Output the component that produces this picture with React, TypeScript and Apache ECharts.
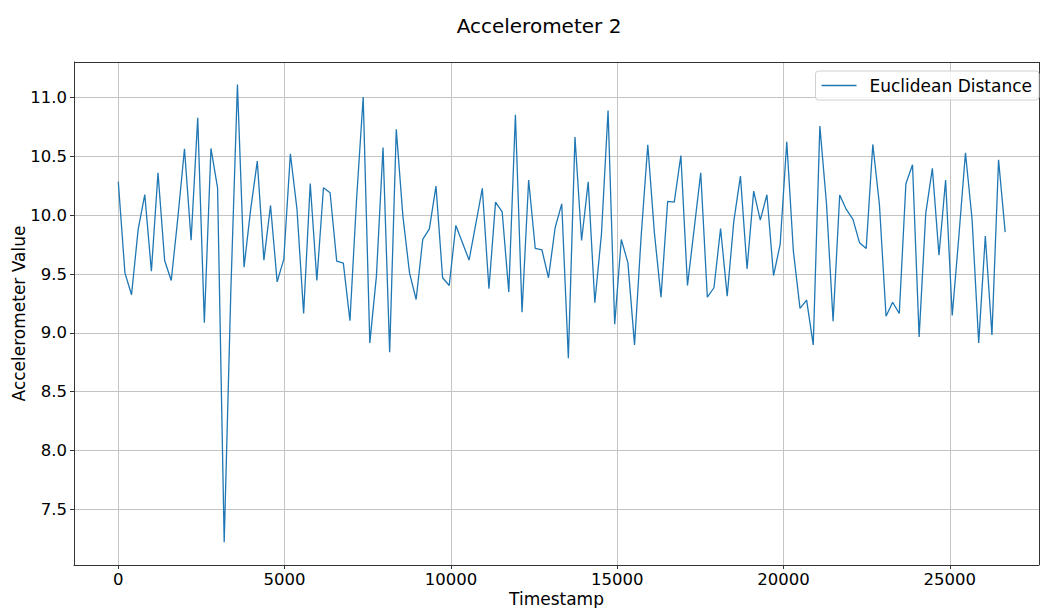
import React, { useEffect, useRef } from "react";
import * as echarts from "echarts";

// Sample timestamps (ms) and the Euclidean distance of accelerometer 2 at each one
const timestamps: number[] = [
  0, 199, 398, 597, 796, 995, 1194, 1393, 1592, 1791, 1990, 2189, 2388, 2587, 2786,
  2985, 3184, 3383, 3582, 3781, 3980, 4179, 4378, 4577, 4776, 4975, 5174, 5373, 5572,
  5771, 5970, 6169, 6368, 6567, 6766, 6965, 7164, 7363, 7562, 7761, 7960, 8159, 8358,
  8557, 8756, 8955, 9154, 9353, 9552, 9751, 9950, 10149, 10348, 10547, 10746, 10945,
  11144, 11343, 11542, 11741, 11940, 12139, 12338, 12537, 12736, 12935, 13134, 13333,
  13532, 13731, 13930, 14129, 14328, 14527, 14726, 14925, 15124, 15323, 15522, 15721,
  15920, 16119, 16318, 16517, 16716, 16915, 17114, 17313, 17512, 17711, 17910, 18109,
  18308, 18507, 18706, 18905, 19104, 19303, 19502, 19701, 19900, 20099, 20298, 20497,
  20696, 20895, 21094, 21293, 21492, 21691, 21890, 22089, 22288, 22487, 22686, 22885,
  23084, 23283, 23482, 23681, 23880, 24079, 24278, 24477, 24676, 24875, 25074, 25273,
  25472, 25671, 25870, 26069, 26268, 26467, 26666,
];

const euclideanDistance: number[] = [
  10.285, 9.511, 9.324, 9.88, 10.177, 9.525, 10.362, 9.616, 9.446, 9.98,
  10.566, 9.789, 10.83, 9.086, 10.569, 10.234, 7.22, 9.35, 11.113, 9.559,
  10.05, 10.461, 9.619, 10.084, 9.434, 9.625, 10.524, 10.05, 9.165, 10.271,
  9.446, 10.234, 10.192, 9.61, 9.593, 9.103, 10.135, 11.006, 8.915, 9.483,
  10.577, 8.836, 10.731, 9.993, 9.511, 9.284, 9.795, 9.885, 10.248, 9.469,
  9.403, 9.914, 9.766, 9.619, 9.922, 10.229, 9.375, 10.112, 10.03, 9.347,
  10.855, 9.176, 10.3, 9.718, 9.707, 9.469, 9.894, 10.098, 8.785, 10.665,
  9.786, 10.285, 9.256, 9.84, 10.892, 9.074, 9.795, 9.596, 8.898, 9.823,
  10.6, 9.851, 9.304, 10.118, 10.112, 10.509, 9.403, 9.88, 10.362, 9.304,
  9.384, 9.888, 9.313, 9.951, 10.334, 9.545, 10.206, 9.959, 10.175, 9.488,
  9.752, 10.626, 9.695, 9.208, 9.279, 8.898, 10.759, 10.1, 9.1, 10.172,
  10.05, 9.965, 9.766, 9.718, 10.603, 10.092, 9.142, 9.261, 9.165, 10.268,
  10.43, 8.966, 10.016, 10.399, 9.661, 10.3, 9.148, 9.82, 10.532, 9.965,
  8.915, 9.823, 8.983, 10.472, 9.857,
];

const xTicks: number[] = [0, 5000, 10000, 15000, 20000, 25000];
const yTicks: number[] = [7.5, 8.0, 8.5, 9.0, 9.5, 10.0, 10.5, 11.0];

const FONT = "DejaVu Sans";
const GRID_COLOR = "#c4c4c4";
const AXIS_COLOR = "#333333";

export default function App() {
  const ref = useRef<HTMLDivElement>(null);

  useEffect(() => {
    document.body.style.margin = "0";
    if (!ref.current) return;
    const chart = echarts.init(ref.current, undefined, { renderer: "svg" });

    const points = timestamps.map((t, i) => [t, euclideanDistance[i]]);

    chart.setOption({
      animation: false,
      backgroundColor: "#ffffff",
      textStyle: { fontFamily: FONT },
      title: {
        text: "Accelerometer 2",
        left: 534,
        top: 11,
        textAlign: "center",
        textStyle: { fontFamily: FONT, fontSize: 20, fontWeight: "normal", color: "#000" },
      },
      legend: {
        right: 1,
        top: 71,
        orient: "vertical",
        data: [{ name: "Euclidean Distance", icon: "rect" }],
        itemWidth: 35,
        itemHeight: 1.5,
        padding: [6, 7, 6, 6],
        backgroundColor: "rgba(255,255,255,0.8)",
        borderColor: "#d0d0d0",
        borderWidth: 1,
        borderRadius: 3,
        textStyle: { fontFamily: FONT, fontSize: 17, color: "#000", padding: [0, 0, 0, 8] },
      },
      grid: {
        left: 74,
        top: 62,
        width: 965,
        height: 503,
        containLabel: false,
        outerBoundsMode: "none",
      },
      xAxis: {
        type: "value",
        min: -1332,
        max: 27683,
        name: "Timestamp",
        nameLocation: "middle",
        nameGap: 25,
        nameMoveOverlap: false,
        nameTextStyle: { fontFamily: FONT, fontSize: 17, color: "#000" },
        axisLine: { show: true, onZero: false, lineStyle: { color: AXIS_COLOR, width: 1 } },
        axisTick: { show: true, length: 4, customValues: xTicks, lineStyle: { color: AXIS_COLOR } },
        axisLabel: {
          customValues: xTicks,
          margin: 6,
          fontFamily: FONT,
          fontSize: 16.5,
          color: "#000",
          formatter: (v: number) => String(v),
        },
        splitLine: { show: true, lineStyle: { color: GRID_COLOR, width: 1 } },
      },
      yAxis: {
        type: "value",
        min: 7.026,
        max: 11.304,
        name: "Accelerometer Value",
        nameLocation: "middle",
        nameGap: 47,
        nameMoveOverlap: false,
        nameTextStyle: { fontFamily: FONT, fontSize: 17, color: "#000" },
        axisLine: { show: true, onZero: false, lineStyle: { color: AXIS_COLOR, width: 1 } },
        axisTick: { show: true, length: 4, customValues: yTicks, lineStyle: { color: AXIS_COLOR } },
        axisLabel: {
          customValues: yTicks,
          margin: 7,
          fontFamily: FONT,
          fontSize: 16.5,
          color: "#000",
          formatter: (v: number) => v.toFixed(1),
        },
        splitLine: { show: true, lineStyle: { color: GRID_COLOR, width: 1 } },
      },
      series: [
        {
          name: "Euclidean Distance",
          type: "line",
          data: points,
          showSymbol: false,
          symbol: "none",
          color: "#1f77b4",
          lineStyle: { color: "#1f77b4", width: 1.3 },
        },
      ],
    });

    // Top and right frame lines of the plot area
    chart.setOption({
      graphic: [
        { type: "line", shape: { x1: 74, y1: 62.5, x2: 1039.5, y2: 62.5 }, style: { stroke: AXIS_COLOR, lineWidth: 1 }, silent: true },
        { type: "line", shape: { x1: 1039.5, y1: 62, x2: 1039.5, y2: 565 }, style: { stroke: AXIS_COLOR, lineWidth: 1 }, silent: true },
      ],
    });

    return () => chart.dispose();
  }, []);

  return <div ref={ref} style={{ width: 1040, height: 608 }} />;
}
